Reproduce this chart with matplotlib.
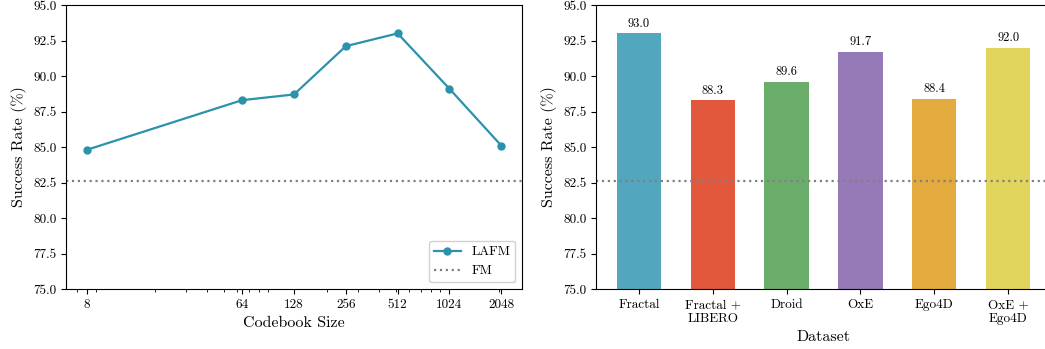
import numpy as np
import matplotlib
matplotlib.use("Agg")
import matplotlib.pyplot as plt

# font giống LaTeX (Computer Modern)
plt.rcParams['font.family'] = 'serif'
plt.rcParams['font.serif'] = ['cmr10', 'DejaVu Serif']
plt.rcParams['mathtext.fontset'] = 'cm'
plt.rcParams['axes.formatter.use_mathtext'] = True
plt.rcParams['axes.unicode_minus'] = False

# ---- dữ liệu ----
codebook_sizes = [8, 64, 128, 256, 512, 1024, 2048]
lafm_rate = [84.8, 88.3, 88.7, 92.1, 93.0, 89.1, 85.1]
fm_rate = 82.6

datasets = ['Fractal', 'Fractal +\nLIBERO', 'Droid', 'OxE', 'Ego4D', 'OxE +\nEgo4D']
dataset_rate = [93.0, 88.3, 89.6, 91.7, 88.4, 92.0]
bar_colors = ['#52a6bd', '#e1583d', '#6aad6b', '#967ab7', '#e3aa3d', '#e1d55d']

line_color = '#2a93ab'
fm_color = '#808080'

fig = plt.figure(figsize=(10.45, 3.49), dpi=100)
W, H = 1045, 349
ax1 = fig.add_axes([66 / W, (H - 289) / H, 456 / W, 284 / H])
ax2 = fig.add_axes([596 / W, (H - 289) / H, 455 / W, 284 / H])

# ---- biểu đồ trái: codebook size ----
ax1.plot(codebook_sizes, lafm_rate, color=line_color, marker='o', markersize=5,
         linewidth=1.6, label='LAFM')
ax1.axhline(fm_rate, color=fm_color, linestyle=':', linewidth=1.6, label='FM')
ax1.set_xscale('log')
ax1.set_xticks(codebook_sizes)
ax1.set_xticklabels([str(s) for s in codebook_sizes])
ax1.set_ylim(75, 95)
ax1.set_yticks(np.arange(75, 95.1, 2.5))
ax1.set_yticklabels(['%.1f' % v for v in np.arange(75, 95.1, 2.5)])
ax1.set_xlabel('Codebook Size', fontsize=11.5)
ax1.set_ylabel('Success Rate (%)', fontsize=11.5)
ax1.tick_params(labelsize=9.5)
ax1.legend(loc='lower right', fontsize=9.5, framealpha=0.9)

# ---- biểu đồ phải: dataset ----
x = np.arange(len(datasets))
bars = ax2.bar(x, dataset_rate, width=0.6, color=bar_colors)
ax2.axhline(fm_rate, color=fm_color, linestyle=':', linewidth=1.6)
for b, v in zip(bars, dataset_rate):
    ax2.text(b.get_x() + b.get_width() / 2, v + 0.25, '%.1f' % v,
             ha='center', va='bottom', fontsize=9)
ax2.set_xticks(x)
ax2.set_xticklabels(datasets, linespacing=1.25)
ax2.set_ylim(75, 95)
ax2.set_yticks(np.arange(75, 95.1, 2.5))
ax2.set_yticklabels(['%.1f' % v for v in np.arange(75, 95.1, 2.5)])
ax2.set_xlabel('Dataset', fontsize=11.5, labelpad=4)
ax2.set_ylabel('Success Rate (%)', fontsize=11.5)
ax2.tick_params(labelsize=9.5)

fig.savefig('out.png', dpi=100)
